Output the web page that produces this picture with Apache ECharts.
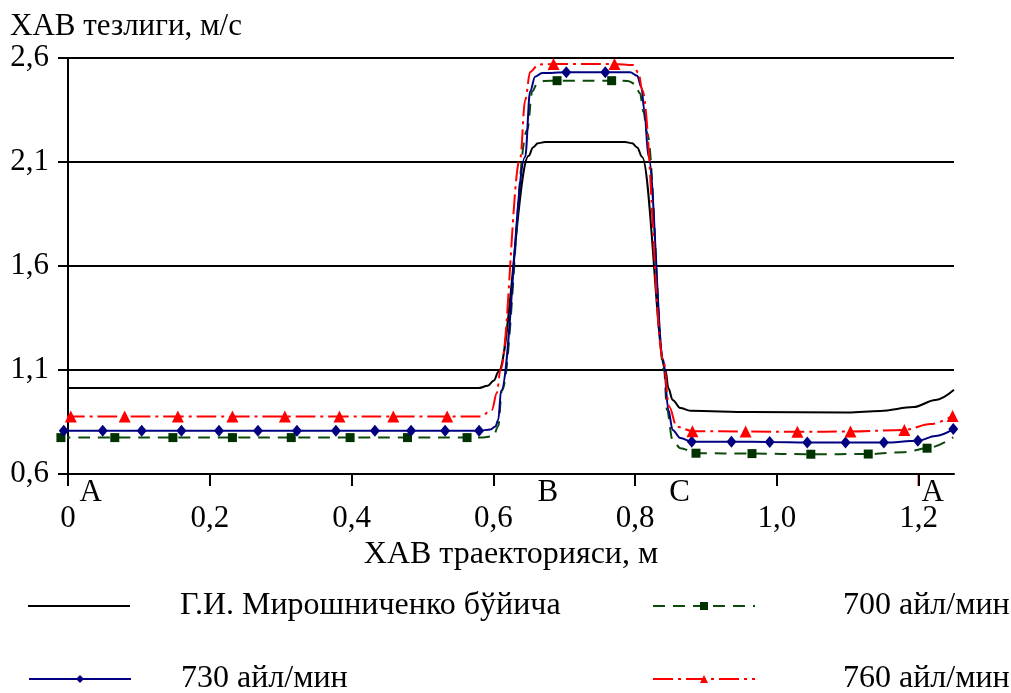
<!DOCTYPE html>
<html>
<head>
<meta charset="utf-8">
<script src="https://cdn.jsdelivr.net/npm/echarts@6/dist/echarts.min.js"></script>
<style>
html, body { margin: 0; padding: 0; background: #fff; }
#chart { width: 1011px; height: 693px; }
</style>
</head>
<body>
<div id="chart"></div>
<script>
var seriesNames = ['Г.И. Мирошниченко бўйича', '700 айл/мин', '730 айл/мин', '760 айл/мин'];
var xTicks = [0, 0.2, 0.4, 0.6, 0.8, 1.0, 1.2];
var yTicks = [0.6, 1.1, 1.6, 2.1, 2.6];
var pointNames = ['A', 'B', 'C', 'A'];
var pointX = [0.032, 0.677, 0.863, 1.22];

// Г.И. Мирошниченко (no markers)
var blackX = [0, 0.579, 0.592, 0.601, 0.607, 0.65, 0.656, 0.663, 0.673, 0.786, 0.796, 0.803, 0.81, 0.843, 0.847, 0.853, 0.864, 0.878, 0.963, 1.1, 1.146, 1.193, 1.224, 1.25];
var blackY = [1.013, 1.013, 1.024, 1.05, 1.09, 2.13, 2.17, 2.19, 2.196, 2.196, 2.19, 2.17, 2.124, 1.1, 1.013, 0.956, 0.917, 0.904, 0.898, 0.896, 0.903, 0.922, 0.956, 1.005];

// 700 айл/мин
var greenX = [-0.014, 0.582, 0.6, 0.607, 0.612, 0.648, 0.655, 0.662, 0.672, 0.79, 0.8, 0.807, 0.812, 0.817, 0.841, 0.845, 0.853, 0.864, 1.18, 1.249];
var greenY = [0.775, 0.775, 0.781, 0.83, 1.0, 2.254, 2.44, 2.478, 2.49, 2.49, 2.475, 2.43, 2.34, 2.239, 1.1, 0.908, 0.763, 0.724, 0.705, 0.776];
var greenMarkX = [-0.01, 0.066, 0.148, 0.232, 0.315, 0.398, 0.479, 0.563, 0.69, 0.767, 0.886, 0.965, 1.048, 1.129, 1.212];
var greenMarkY = [0.775, 0.775, 0.775, 0.775, 0.775, 0.775, 0.775, 0.775, 2.491, 2.491, 0.70, 0.698, 0.695, 0.696, 0.724];

// 730 айл/мин
var blueX = [-0.01, 0.596, 0.603, 0.607, 0.611, 0.645, 0.652, 0.659, 0.669, 0.793, 0.803, 0.809, 0.813, 0.819, 0.84, 0.847, 0.853, 0.864, 1.224];
var blueY = [0.808, 0.814, 0.828, 0.86, 1.0, 2.124, 2.44, 2.51, 2.528, 2.531, 2.515, 2.46, 2.35, 2.125, 1.148, 0.908, 0.812, 0.773, 0.783];
var blueMarkX = [-0.006, 0.049, 0.104, 0.16, 0.213, 0.268, 0.323, 0.378, 0.433, 0.484, 0.532, 0.58, 0.703, 0.758, 0.88, 0.936, 0.99, 1.043, 1.097, 1.151, 1.199, 1.249];
var blueMarkY = [0.808, 0.808, 0.808, 0.808, 0.808, 0.808, 0.808, 0.808, 0.808, 0.808, 0.808, 0.808, 2.531, 2.531, 0.755, 0.755, 0.754, 0.752, 0.752, 0.751, 0.76, 0.816];

// 760 айл/мин
var redX = [-0.005, 0.582, 0.598, 0.605, 0.61, 0.638, 0.645, 0.652, 0.664, 0.797, 0.805, 0.81, 0.84, 0.848, 0.859, 1.217];
var redY = [0.877, 0.877, 0.908, 0.989, 1.1, 2.119, 2.398, 2.533, 2.569, 2.566, 2.528, 2.446, 1.148, 0.924, 0.827, 0.84];
var redMarkX = [0.004, 0.08, 0.155, 0.232, 0.306, 0.383, 0.459, 0.535, 0.685, 0.771, 0.881, 0.956, 1.029, 1.104, 1.18, 1.248];
var redMarkY = [0.877, 0.877, 0.877, 0.877, 0.877, 0.877, 0.877, 0.877, 2.571, 2.571, 0.806, 0.804, 0.803, 0.804, 0.812, 0.879];

var FONT = 'Liberation Serif';

function buildData(cx, cy, mx, my) {
    var pts = [];
    for (var i = 0; i < cx.length; i++) {
        pts.push({value: [cx[i], cy[i]], symbol: 'none'});
    }
    if (mx) {
        for (var j = 0; j < mx.length; j++) {
            pts.push({value: [mx[j], my[j]]});
        }
    }
    pts.sort(function (a, b) { return a.value[0] - b.value[0]; });
    return pts;
}

function makeSeries(name, data, color, markColor, symbol, size, dash) {
    return {
        name: name,
        type: 'line',
        data: data,
        smooth: 0.35,
        smoothMonotone: 'x',
        symbol: symbol,
        symbolSize: size,
        showSymbol: true,
        clip: false,
        silent: true,
        lineStyle: {color: color, width: 2, type: dash},
        itemStyle: {color: markColor},
        emphasis: {disabled: true}
    };
}

function legendBox(name, left, top, pad, iconH, extra) {
    return {
        data: [extra ? Object.assign({name: name}, extra) : name],
        left: left,
        top: top,
        padding: 0,
        itemWidth: 102,
        itemHeight: iconH,
        selectedMode: false,
        textStyle: {
            fontFamily: FONT,
            fontSize: 32,
            color: '#000',
            lineHeight: 36,
            padding: [0, 0, 0, pad]
        }
    };
}

var myChart = echarts.init(document.getElementById('chart'));

option = {
    backgroundColor: '#fff',
    animation: false,
    textStyle: {fontFamily: FONT},
    grid: {left: 68, right: 57, top: 58, bottom: 219, outerBoundsMode: 'none'},
    legend: [
        legendBox(seriesNames[0], 28, 588, 45, 2, {icon: 'rect', itemStyle: {color: '#000'}}),
        legendBox(seriesNames[2], 28, 661, 45, 10),
        legendBox(seriesNames[1], 652, 588, 83, 10),
        legendBox(seriesNames[3], 652, 661, 83, 10)
    ],
    xAxis: {
        type: 'value',
        min: 0,
        max: 1.25,
        name: 'ХАВ траекторияси, м',
        nameLocation: 'middle',
        nameGap: 60,
        nameTextStyle: {fontFamily: FONT, fontSize: 32, color: '#000'},
        axisLine: {show: true, lineStyle: {color: '#000', width: 2}},
        axisTick: {show: true, customValues: xTicks, length: 12, lineStyle: {color: '#000', width: 2}},
        axisLabel: {
            customValues: xTicks,
            margin: 29,
            fontFamily: FONT,
            fontSize: 31,
            color: '#000',
            formatter: function (v) {
                return v === 0 ? '0' : v.toFixed(1).replace('.', ',');
            }
        },
        splitLine: {show: false}
    },
    yAxis: {
        type: 'value',
        min: 0.6,
        max: 2.6,
        interval: 0.5,
        name: 'ХАВ тезлиги, м/с',
        nameLocation: 'end',
        nameGap: 14,
        nameTextStyle: {fontFamily: FONT, fontSize: 31, color: '#000', align: 'left', padding: [0, 0, 0, -58]},
        axisLine: {show: true, lineStyle: {color: '#000', width: 2}},
        axisTick: {show: true, customValues: yTicks, length: 10, lineStyle: {color: '#000', width: 2}},
        axisLabel: {
            customValues: yTicks,
            margin: 19,
            fontFamily: FONT,
            fontSize: 31,
            color: '#000',
            formatter: function (v) {
                return v.toFixed(1).replace('.', ',');
            }
        },
        splitLine: {show: true, lineStyle: {color: '#000', width: 2}}
    },
    series: [
        makeSeries(seriesNames[0], buildData(blackX, blackY), '#000', '#000', 'none', 0, 'solid'),
        makeSeries(seriesNames[1], buildData(greenX, greenY, greenMarkX, greenMarkY), '#0b4a0b', '#003300', 'rect', 9, [12, 8]),
        makeSeries(seriesNames[2], buildData(blueX, blueY, blueMarkX, blueMarkY), '#000080', '#000080', 'diamond', [10, 12], 'solid'),
        makeSeries(seriesNames[3], buildData(redX, redY, redMarkX, redMarkY), '#ff0000', '#ff0000', 'triangle', 12, [20, 5, 3, 5])
    ]
};
myChart.setOption(option);

// point letters under the axis, red mark at 1.2 and the axis stub above 2.6
var g = [];
for (var i = 0; i < pointNames.length; i++) {
    var p = myChart.convertToPixel({gridIndex: 0}, [pointX[i], 0.6]);
    g.push({
        type: 'text',
        x: p[0],
        y: p[1] + 19,
        silent: true,
        style: {text: pointNames[i], fill: '#000', font: '31px "Liberation Serif"', align: 'center', verticalAlign: 'middle'}
    });
}
var t = myChart.convertToPixel({gridIndex: 0}, [1.2, 0.6]);
g.push({type: 'line', silent: true, shape: {x1: t[0], y1: t[1], x2: t[0], y2: t[1] + 12}, style: {stroke: '#ff0000', lineWidth: 2}});
var top = myChart.convertToPixel({gridIndex: 0}, [0, 2.6]);
g.push({type: 'line', silent: true, shape: {x1: top[0], y1: top[1] - 15, x2: top[0], y2: top[1]}, style: {stroke: '#000', lineWidth: 2}});
myChart.setOption({graphic: g});
</script>
</body>
</html>
